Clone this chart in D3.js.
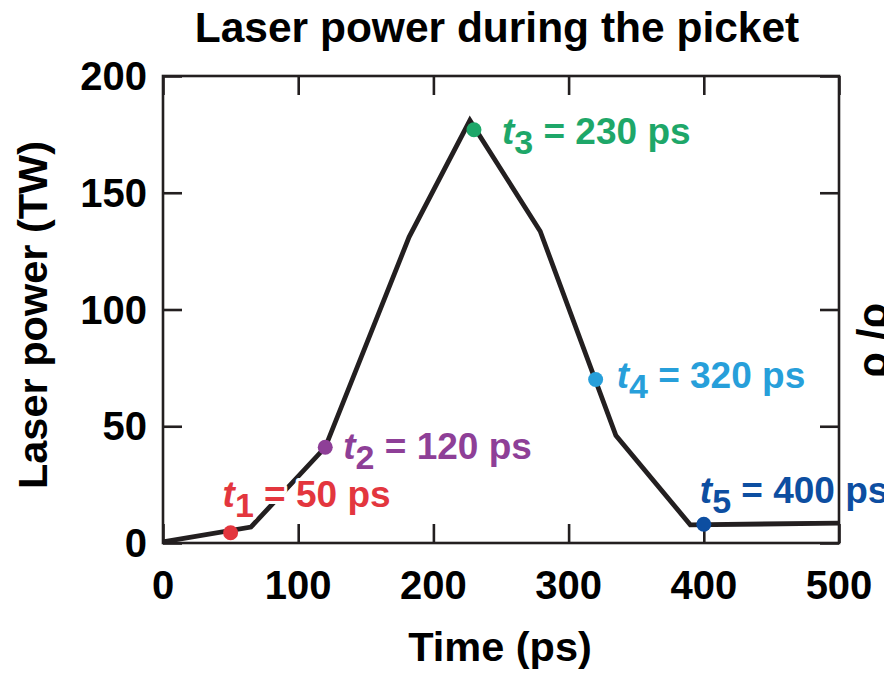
<!DOCTYPE html>
<html>
<head>
<meta charset="utf-8">
<script src="https://cdn.jsdelivr.net/npm/d3@7"></script>
<style>
  html, body { margin: 0; padding: 0; background: #fff; }
  svg { display: block; font-family: "Liberation Sans", Arial, Helvetica, sans-serif; font-weight: bold; }
</style>
</head>
<body>
<svg id="chart" width="884" height="673"></svg>
<script>
// Picket pulse shape: time (ps) vs. laser power (TW)
const timePs   = [0, 65, 120, 182, 227, 279, 335, 390, 500];
const powerTW  = [0.5, 6.8, 41, 131, 181, 133.5, 46, 7.8, 8.5];

// Marked instants along the pulse
const markIndex = [1, 2, 3, 4, 5];
const markTime  = [50, 120, 230, 320, 400];
const markPower = [4.4, 41, 177, 70, 8];
const markColor = ["#e3363e", "#8e3f97", "#1ea769", "#279fda", "#0d4ea1"];

const xTicks = [0, 100, 200, 300, 400, 500];
const yTicks = [0, 50, 100, 150, 200];

const W = 884, H = 673;
const margin = { left: 163, right: 45, top: 76, bottom: 130 };
const x = d3.scaleLinear().domain([0, 500]).range([margin.left, W - margin.right]);
const y = d3.scaleLinear().domain([0, 200]).range([H - margin.bottom, margin.top]);

const svg = d3.select("#chart");
const ink = "#231f20";
const tickLen = 19;

// Frame with inward ticks on all four sides
const gBottom = svg.append("g").attr("transform", `translate(0,${y(0)})`)
  .call(d3.axisBottom(x).tickValues(xTicks).tickSize(-tickLen).tickFormat(""));
const gTop = svg.append("g").attr("transform", `translate(0,${y(200)})`)
  .call(d3.axisTop(x).tickValues(xTicks).tickSize(-tickLen).tickFormat(""));
const gLeft = svg.append("g").attr("transform", `translate(${x(0)},0)`)
  .call(d3.axisLeft(y).tickValues(yTicks).tickSize(-tickLen).tickFormat(""));
const gRight = svg.append("g").attr("transform", `translate(${x(500)},0)`)
  .call(d3.axisRight(y).tickValues(yTicks).tickSize(-tickLen).tickFormat(""));
[gBottom, gTop, gLeft, gRight].forEach(g => {
  g.select(".domain").attr("d", null);
  g.selectAll(".tick line").attr("stroke", ink).attr("stroke-width", 2.6);
});
svg.append("rect")
  .attr("x", x(0)).attr("y", y(200))
  .attr("width", x(500) - x(0)).attr("height", y(0) - y(200))
  .attr("fill", "none").attr("stroke", ink).attr("stroke-width", 2.6);

// Tick labels
svg.append("g").selectAll("text").data(xTicks).join("text")
  .attr("x", d => x(d)).attr("y", y(0) + 56)
  .attr("text-anchor", "middle").attr("font-size", 40).attr("fill", "#000")
  .text(d => d);
svg.append("g").selectAll("text").data(yTicks).join("text")
  .attr("x", x(0) - 16).attr("y", d => y(d) + 14)
  .attr("text-anchor", "end").attr("font-size", 40).attr("fill", "#000")
  .text(d => d);

// Titles
svg.append("text").attr("x", 497).attr("y", 42).attr("text-anchor", "middle")
  .attr("font-size", 42.5).attr("fill", "#000").text("Laser power during the picket");
svg.append("text").attr("x", 500).attr("y", 661).attr("text-anchor", "middle")
  .attr("font-size", 41.5).attr("fill", "#000").text("Time (ps)");
svg.append("text").attr("transform", "translate(47,315) rotate(-90)")
  .attr("text-anchor", "middle").attr("font-size", 41.5).attr("fill", "#000")
  .text("Laser power (TW)");

// Pulse trace
svg.append("path")
  .datum(timePs.map((t, i) => [t, powerTW[i]]))
  .attr("fill", "none").attr("stroke", ink).attr("stroke-width", 4.8)
  .attr("stroke-linejoin", "miter")
  .attr("d", d3.line().x(d => x(d[0])).y(d => y(d[1])));

// Markers
svg.append("g").selectAll("circle").data(markTime).join("circle")
  .attr("cx", d => x(d)).attr("cy", (d, i) => y(markPower[i]))
  .attr("r", 7.5).attr("fill", (d, i) => markColor[i]);

// Marker labels, offset from each point
const labelOffset = [[-8, -26], [18, 12], [28, 14], [21, 8], [-4, -21]];
const labels = svg.append("g").selectAll("text").data(markTime).join("text")
  .attr("x", (d, i) => x(d) + labelOffset[i][0])
  .attr("y", (d, i) => y(markPower[i]) + labelOffset[i][1])
  .attr("font-size", 37).attr("fill", (d, i) => markColor[i])
  .attr("stroke", "#fff").attr("stroke-width", 6).attr("stroke-linejoin", "round")
  .attr("paint-order", "stroke");
labels.append("tspan").attr("font-style", "italic").text("t");
labels.append("tspan").attr("dy", 10).attr("font-size", 34).text((d, i) => markIndex[i]);
labels.append("tspan").attr("dy", -10).text(d => ` = ${d} ps`);

// Edge of the adjoining panel's axis title
svg.append("text").attr("transform", "translate(887,378) rotate(-90)")
  .attr("font-size", 42).attr("fill", "#000").text("ρ /ρ");
</script>
</body>
</html>
